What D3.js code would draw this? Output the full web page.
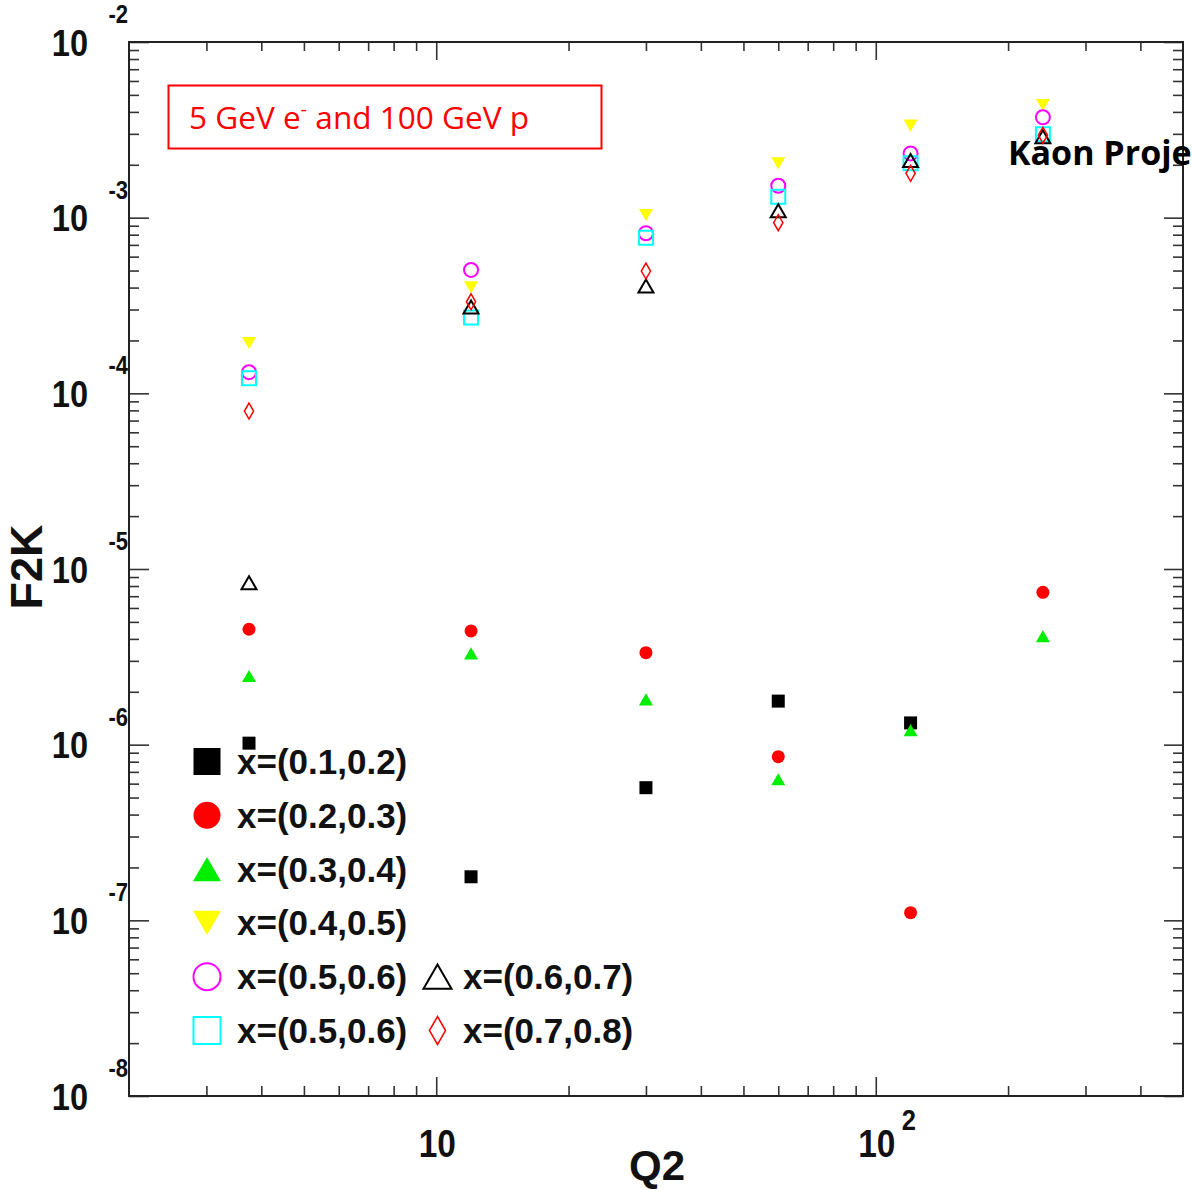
<!DOCTYPE html>
<html>
<head>
<meta charset="utf-8">
<script src="https://cdn.jsdelivr.net/npm/d3@7"></script>
<style>
  html, body { margin: 0; padding: 0; background: #fff; }
  svg { display: block; }
</style>
</head>
<body>
<script>
// ---- data -------------------------------------------------------------
const Q2 = [3.75, 12, 30, 60, 120, 240];

const F2K_X01_02 = [1.02e-6, 1.77e-7, 5.69e-7, 1.77e-6, 1.33e-6, null];
const F2K_X02_03 = [4.54e-6, 4.44e-6, 3.34e-6, 8.54e-7, 1.105e-7, 7.37e-6];
const F2K_X03_04 = [2.46e-6, 3.31e-6, 1.81e-6, 6.35e-7, 1.21e-6, 4.15e-6];
const F2K_X04_05 = [1.93e-4, 4.01e-4, 1.036e-3, 2.04e-3, 3.34e-3, 4.38e-3];
const F2K_X05_06A = [1.32e-4, 5.04e-4, 8.15e-4, 1.52e-3, 2.32e-3, 3.73e-3];
const F2K_X05_06B = [1.22e-4, 2.70e-4, 7.69e-4, 1.316e-3, 2.04e-3, 2.98e-3];
const F2K_X06_07 = [8.36e-6, 3.10e-4, 4.08e-4, 1.096e-3, 2.115e-3, 2.89e-3];
const F2K_X07_08 = [7.93e-5, 3.32e-4, 4.97e-4, 9.36e-4, 1.789e-3, 2.95e-3];

const SERIES_LABELS = [
  "x=(0.1,0.2)", "x=(0.2,0.3)", "x=(0.3,0.4)", "x=(0.4,0.5)",
  "x=(0.5,0.6)", "x=(0.5,0.6)", "x=(0.6,0.7)", "x=(0.7,0.8)"
];

const Q2_RANGE = [2, 500];
const F2K_RANGE = [1e-8, 1e-2];
const X_TICK_LABELS = [{ value: 10, base: "10", exp: "" }, { value: 100, base: "10", exp: "2" }];
const Y_TICK_EXPONENTS = [-8, -7, -6, -5, -4, -3, -2];

const BEAM_LABEL = ["5 GeV e", "-", " and 100 GeV p"];
const CORNER_LABEL = "Kaon Projection";

// ---- marker styles ----------------------------------------------------
const SERIES = [
  { values: F2K_X01_02, shape: "square",   color: "#000000", filled: true },
  { values: F2K_X02_03, shape: "circle",   color: "#ff0000", filled: true },
  { values: F2K_X03_04, shape: "triUp",    color: "#00ee00", filled: true },
  { values: F2K_X04_05, shape: "triDown",  color: "#ffff00", filled: true },
  { values: F2K_X05_06A, shape: "circle",  color: "#ff00ff", filled: false },
  { values: F2K_X05_06B, shape: "square",  color: "#00ffff", filled: false },
  { values: F2K_X06_07, shape: "triUp",    color: "#000000", filled: false },
  { values: F2K_X07_08, shape: "diamond",  color: "#ff0000", filled: false }
].map((s, i) => ({ ...s, label: SERIES_LABELS[i] }));

// size = characteristic width (height for diamonds)
const DATA_SIZE = { square: 13, circle: 13, triUp: 14, triDown: 14, diamond: 16 };
const OPEN_SIZE = { square: 14, circle: 14, triUp: 15, diamond: 16 };
const LEGEND_SIZE = { square: 27, circle: 27, triUp: 28, triDown: 28, diamond: 28 };

// ---- layout -----------------------------------------------------------
const W = 1192, H = 1189;
const frame = { left: 129, right: 1183, top: 42, bottom: 1096 };
const svg = d3.select("body").append("svg").attr("width", W).attr("height", H);

const x = d3.scaleLog().domain(Q2_RANGE).range([frame.left, frame.right]);
const y = d3.scaleLog().domain(F2K_RANGE).range([frame.bottom, frame.top]);

const isMajor = v => Math.abs(Math.log10(v) - Math.round(Math.log10(v))) < 1e-6;
const xTicks = x.ticks().filter(v => v > Q2_RANGE[0] * 1.0001 && v < Q2_RANGE[1] * 0.9999);
const yTicks = y.ticks();

// ---- ticks on all four sides (pointing inward) ------------------------
function tickAxis(axisFn, scale, translate, values, len) {
  svg.append("g")
    .attr("transform", translate)
    .call(axisFn(scale).tickValues(values).tickSize(-len).tickSizeOuter(0).tickFormat(""))
    .call(g => g.select(".domain").remove())
    .call(g => g.selectAll("text").remove())
    .call(g => g.selectAll("line").attr("stroke", "#333").attr("stroke-width", 1.6));
}
const xMinor = xTicks.filter(v => !isMajor(v)), xMajor = xTicks.filter(isMajor);
const yMinor = yTicks.filter(v => !isMajor(v)), yMajor = yTicks.filter(isMajor);

tickAxis(d3.axisBottom, x, `translate(0,${frame.bottom})`, xMinor, 10);
tickAxis(d3.axisBottom, x, `translate(0,${frame.bottom})`, xMajor, 19);
tickAxis(d3.axisTop, x, `translate(0,${frame.top})`, xMinor, 9);
tickAxis(d3.axisTop, x, `translate(0,${frame.top})`, xMajor, 18);
tickAxis(d3.axisLeft, y, `translate(${frame.left},0)`, yMinor, 10);
tickAxis(d3.axisLeft, y, `translate(${frame.left},0)`, yMajor, 20);
tickAxis(d3.axisRight, y, `translate(${frame.right},0)`, yMinor, 10);
tickAxis(d3.axisRight, y, `translate(${frame.right},0)`, yMajor, 19);

svg.append("rect")
  .attr("x", frame.left).attr("y", frame.top)
  .attr("width", frame.right - frame.left).attr("height", frame.bottom - frame.top)
  .attr("fill", "none").attr("stroke", "#222").attr("stroke-width", 2);

// ---- tick labels (condensed bold, power-of-ten form) ------------------
const AXIS_FONT = "'Liberation Sans', Arial, Helvetica, sans-serif";
const SQUEEZE = 0.88;
function condensedText(px, py, str, size, anchor) {
  return svg.append("text")
    .attr("transform", `translate(${px},${py}) scale(${SQUEEZE},1)`)
    .attr("text-anchor", anchor)
    .attr("font-family", AXIS_FONT)
    .attr("font-weight", "bold")
    .attr("font-size", size)
    .attr("fill", "#111")
    .text(str);
}

Y_TICK_EXPONENTS.forEach(e => {
  const ty = y(Math.pow(10, e));
  condensedText(88, ty + 13.5, "10", 37, "end");
  condensedText(128, ty - 19, String(e), 25, "end");
});

X_TICK_LABELS.forEach(t => {
  const tx = x(t.value);
  condensedText(tx + 1, 1157, t.base, 38, "middle");
  if (t.exp) condensedText(tx + 26, 1130, t.exp, 29, "start");
});

// ---- axis titles ------------------------------------------------------
svg.append("text")
  .attr("transform", `translate(42,567) rotate(-90)`)
  .attr("text-anchor", "middle")
  .attr("font-family", AXIS_FONT).attr("font-weight", "bold")
  .attr("font-size", 45).attr("fill", "#111")
  .text("F2K");

svg.append("text")
  .attr("x", 657).attr("y", 1180)
  .attr("text-anchor", "middle")
  .attr("font-family", AXIS_FONT).attr("font-weight", "bold")
  .attr("font-size", 42).attr("fill", "#111")
  .text("Q2");

// ---- marker geometry --------------------------------------------------
const SQRT3 = Math.sqrt(3);
function markerPath(shape, s) {
  switch (shape) {
    case "square": return { d: d3.symbol(d3.symbolSquare, s * s)(), dy: 0, rot: 0 };
    case "circle": return { d: d3.symbol(d3.symbolCircle, Math.PI * s * s / 4)(), dy: 0, rot: 0 };
    case "triUp": {
      const r = s / (2 * SQRT3);
      return { d: d3.symbol(d3.symbolTriangle, r * r * 3 * SQRT3)(), dy: r / 2, rot: 0 };
    }
    case "triDown": {
      const r = s / (2 * SQRT3);
      return { d: d3.symbol(d3.symbolTriangle, r * r * 3 * SQRT3)(), dy: -r / 2, rot: 180 };
    }
    case "diamond": {
      const r = s / 2;
      return { d: d3.symbol(d3.symbolDiamond, r * r * 2 / SQRT3)(), dy: 0, rot: 0 };
    }
  }
}

function drawMarker(g, series, px, py, size) {
  const m = markerPath(series.shape, size);
  const p = g.append("path")
    .attr("d", m.d)
    .attr("transform", `translate(${px},${py + m.dy}) rotate(${m.rot})`);
  if (series.filled) {
    p.attr("fill", series.color).attr("stroke", "none");
  } else {
    p.attr("fill", "none").attr("stroke", series.color)
     .attr("stroke-width", series.shape === "diamond" ? 1.5 : 2);
  }
}

// ---- data points ------------------------------------------------------
const pts = svg.append("g");
SERIES.forEach(s => {
  const sz = s.filled ? DATA_SIZE[s.shape] : OPEN_SIZE[s.shape];
  s.values.forEach((v, i) => {
    if (v == null) return;
    drawMarker(pts, s, x(Q2[i]), y(v), sz);
  });
});

// ---- legend -----------------------------------------------------------
const legend = svg.append("g");
const LEG_COLS = [{ mx: 207, tx: 237 }, { mx: 437.5, tx: 463 }];
const LEG_ROW0 = 761.5, LEG_STEP = 53.8;
SERIES.forEach((s, i) => {
  const col = i < 6 ? 0 : 1;
  const row = i < 6 ? i : i - 2;
  const cy = LEG_ROW0 + row * LEG_STEP;
  drawMarker(legend, s, LEG_COLS[col].mx, cy, LEGEND_SIZE[s.shape]);
  legend.append("text")
    .attr("x", LEG_COLS[col].tx).attr("y", cy + 12.5)
    .attr("font-family", AXIS_FONT).attr("font-weight", "bold")
    .attr("font-size", 35).attr("fill", "#111")
    .text(s.label);
});

// ---- beam annotation box ----------------------------------------------
svg.append("rect")
  .attr("x", 168.5).attr("y", 85.5).attr("width", 433).attr("height", 63)
  .attr("fill", "#fff").attr("stroke", "#ff0000").attr("stroke-width", 2);
const beam = svg.append("text")
  .attr("x", 189).attr("y", 129)
  .attr("font-family", "'Open Sans', 'Noto Sans', sans-serif")
  .attr("font-size", 31).attr("fill", "#ff0000")
  .attr("textLength", 340).attr("lengthAdjust", "spacingAndGlyphs");
beam.append("tspan").text(BEAM_LABEL[0]);
beam.append("tspan").attr("dy", -13).attr("font-size", 20).text(BEAM_LABEL[1]);
beam.append("tspan").attr("dy", 13).text(BEAM_LABEL[2]);

svg.append("text")
  .attr("x", 1008).attr("y", 165)
  .attr("font-family", "'Open Sans', 'Noto Sans', sans-serif")
  .attr("font-weight", "bold").attr("font-size", 34).attr("fill", "#000")
  .text(CORNER_LABEL);
</script>
</body>
</html>
